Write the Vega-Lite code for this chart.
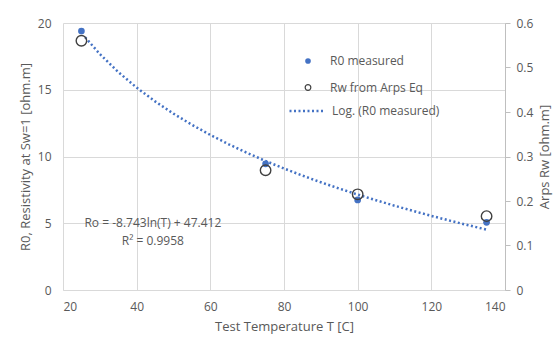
{
  "$schema": "https://vega.github.io/schema/vega-lite/v6.json",
  "width": 442,
  "height": 267,
  "autosize": {"type": "none"},
  "padding": {"left": 63, "top": 23, "right": 51, "bottom": 68},
  "background": "white",
  "config": {
    "font": "Open Sans",
    "view": {"stroke": null},
    "axis": {
      "labelColor": "#595959",
      "titleColor": "#595959",
      "labelFontSize": 12,
      "titleFontSize": 13,
      "titleFontWeight": "normal",
      "gridColor": "#d9d9d9",
      "domainColor": "#d9d9d9",
      "tickColor": "#bfbfbf"
    },
    "legend": {
      "orient": "none",
      "padding": 0,
      "labelFontSize": 12,
      "labelColor": "#595959"
    }
  },
  "datasets": {
    "measured": [
      {"T": 25, "R0": 19.4, "Rw": 0.56},
      {"T": 75, "R0": 9.45, "Rw": 0.269},
      {"T": 100, "R0": 6.75, "Rw": 0.215},
      {"T": 135, "R0": 5.07, "Rw": 0.166}
    ],
    "trend": [
      {"T": 26, "fit": 18.93},
      {"T": 30, "fit": 17.675},
      {"T": 35, "fit": 16.328},
      {"T": 40, "fit": 15.16},
      {"T": 45, "fit": 14.13},
      {"T": 50, "fit": 13.209},
      {"T": 55, "fit": 12.376},
      {"T": 60, "fit": 11.615},
      {"T": 65, "fit": 10.915},
      {"T": 70, "fit": 10.267},
      {"T": 75, "fit": 9.664},
      {"T": 80, "fit": 9.1},
      {"T": 85, "fit": 8.57},
      {"T": 90, "fit": 8.07},
      {"T": 95, "fit": 7.597},
      {"T": 100, "fit": 7.149},
      {"T": 105, "fit": 6.722},
      {"T": 110, "fit": 6.316},
      {"T": 115, "fit": 5.927},
      {"T": 120, "fit": 5.555},
      {"T": 125, "fit": 5.198},
      {"T": 130, "fit": 4.855},
      {"T": 135, "fit": 4.525}
    ],
    "notes": [
      {"T": 44.4, "R0": 5.0, "text": "Ro = -8.743ln(T) + 47.412"},
      {"T": 44.4, "R0": 3.67, "text": "R² = 0.9958"}
    ]
  },
  "layer": [
    {
      "layer": [
        {
          "data": {"name": "trend"},
          "mark": {"type": "line", "strokeDash": [2, 2.5], "strokeWidth": 2.5, "strokeCap": "butt"},
          "encoding": {
            "x": {"field": "T", "type": "quantitative"},
            "y": {"field": "fit", "type": "quantitative"},
            "color": {
              "datum": "Log. (R0 measured)",
              "scale": {"range": ["#4472C4"]},
              "legend": {
                "title": null,
                "legendX": 225,
                "legendY": 69,
                "symbolType": "stroke",
                "symbolSize": 1225,
                "symbolDash": [2, 2.5],
                "symbolStrokeWidth": 2.5,
                "symbolStrokeColor": "#4472C4",
                "labelOffset": 6
              }
            }
          }
        },
        {
          "data": {"name": "measured"},
          "mark": {"type": "point", "filled": true, "size": 45, "opacity": 1},
          "encoding": {
            "x": {"field": "T", "type": "quantitative"},
            "y": {"field": "R0", "type": "quantitative"},
            "color": {
              "datum": "R0 measured",
              "scale": {"range": ["#4472C4"]},
              "legend": {
                "title": null,
                "legendX": 239,
                "legendY": 32,
                "symbolType": "circle",
                "symbolSize": 32,
                "symbolFillColor": "#4472C4",
                "symbolStrokeColor": "#4472C4",
                "symbolStrokeWidth": 0,
                "labelOffset": 16
              }
            }
          }
        },
        {
          "data": {"name": "notes"},
          "mark": {"type": "text", "fontSize": 12, "color": "#595959", "align": "center", "baseline": "middle"},
          "encoding": {
            "x": {"field": "T", "type": "quantitative"},
            "y": {"field": "R0", "type": "quantitative"},
            "text": {"field": "text"}
          }
        }
      ],
      "resolve": {"scale": {"color": "independent"}, "legend": {"color": "independent"}},
      "encoding": {
        "x": {
          "field": "T",
          "type": "quantitative",
          "scale": {"domain": [20, 140], "nice": false, "zero": false},
          "axis": {
            "title": "Test Temperature T [C]",
            "values": [20, 40, 60, 80, 100, 120, 140],
            "grid": true,
            "ticks": false,
            "tickSize": 0,
            "labelPadding": 11,
            "titlePadding": 8,
            "domain": true
          }
        },
        "y": {
          "field": "R0",
          "type": "quantitative",
          "scale": {"domain": [0, 20], "nice": false},
          "axis": {
            "title": "R0, Resistivity at Sw=1 [ohm.m]",
            "values": [0, 5, 10, 15, 20],
            "grid": true,
            "ticks": false,
            "tickSize": 0,
            "domain": false,
            "labelPadding": 12,
            "titlePadding": 5
          }
        }
      }
    },
    {
      "data": {"name": "measured"},
      "mark": {"type": "point", "filled": false, "size": 110, "strokeWidth": 1.4, "opacity": 1},
      "encoding": {
        "x": {"field": "T", "type": "quantitative"},
        "y": {
          "field": "Rw",
          "type": "quantitative",
          "scale": {"domain": [0, 0.6], "nice": false},
          "axis": {
            "orient": "right",
            "title": "Arps Rw [ohm.m]",
            "titleAngle": 270,
            "titleBaseline": "top",
            "values": [0, 0.1, 0.2, 0.3, 0.4, 0.5, 0.6],
            "format": ".1~f",
            "grid": false,
            "domain": true,
            "domainColor": "#bfbfbf",
            "ticks": true,
            "tickSize": 5,
            "labelPadding": 6,
            "titlePadding": 6
          }
        },
        "color": {
          "datum": "Rw from Arps Eq",
          "scale": {"range": ["#404040"]},
          "legend": {
            "title": null,
            "legendX": 239,
            "legendY": 58.5,
            "symbolType": "circle",
            "symbolSize": 32,
            "symbolFillColor": "transparent",
            "symbolStrokeColor": "#404040",
            "symbolStrokeWidth": 1.2,
            "labelOffset": 16
          }
        }
      }
    }
  ],
  "resolve": {"scale": {"y": "independent", "color": "independent"}, "legend": {"color": "independent"}}
}
